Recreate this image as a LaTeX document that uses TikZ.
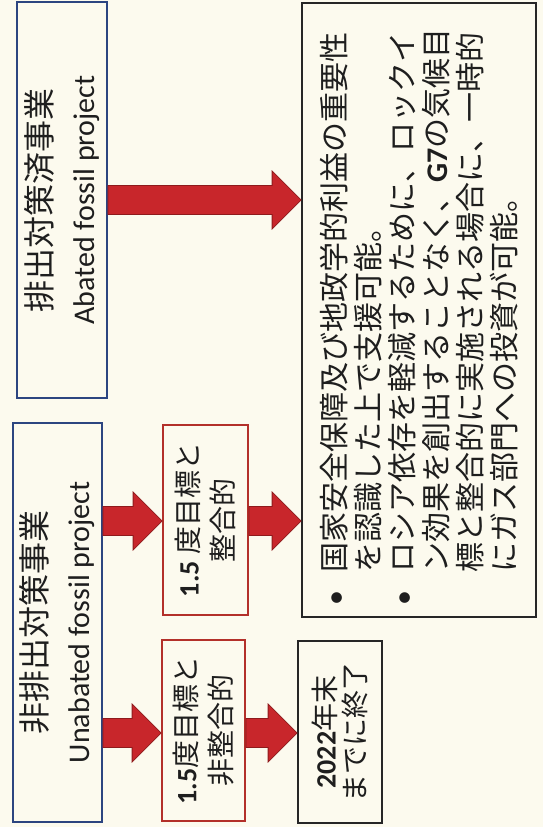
\documentclass[tikz,border=0pt]{standalone}
\usepackage{fontspec}
\setmainfont{Carlito}
\newfontfamily\jp{Noto Sans CJK JP}
\usetikzlibrary{calc}
\definecolor{bgc}{HTML}{FCFAEE}
\definecolor{bluec}{HTML}{2C4580}
\definecolor{redc}{HTML}{B3302A}
\definecolor{arrowc}{HTML}{C8262B}
\definecolor{arrowd}{HTML}{8E1A1C}
\definecolor{inkc}{HTML}{1E1E1E}
\newcommand\blockarrow[2]{%
  \path[blockarrow] ($(#1)+(0,-14.5)$) -- ($(#2)+(-29,-14.5)$) -- ($(#2)+(-29,-29)$) -- (#2)
    -- ($(#2)+(-29,29)$) -- ($(#2)+(-29,14.5)$) -- ($(#1)+(0,14.5)$) -- cycle;}
\begin{document}
\begin{tikzpicture}[x=1pt,y=-1pt,
  box/.style={draw, line width=1.8pt, rotate=90, inner sep=0pt, text=inkc, align=center},
  bluebox/.style={box, draw=bluec, font=\fontsize{30}{43}\selectfont},
  redbox/.style={box, draw=redc, font=\fontsize{28}{35}\selectfont},
  blackbox/.style={box, draw=black!85},
  blockarrow/.style={fill=arrowc, draw=arrowd, line width=0.8pt, line join=miter}
]
\fill[bgc] (0,0) rectangle (543,827);
\useasboundingbox (0,0) rectangle (543,827);

\node[bluebox, minimum width=396pt, minimum height=90pt] (abated) at (62,200)
  {{\jp\fontsize{32}{43}\selectfont 排出対策済事業}\\Abated fossil project};
\node[bluebox, minimum width=399pt, minimum height=89pt] (unabated) at (57.5,622.5)
  {{\jp\fontsize{32}{43}\selectfont 非排出対策事業}\\Unabated fossil project};
\node[redbox, minimum width=190pt, minimum height=85pt] (ok15) at (205.5,520)
  {{\bfseries 1.5} {\jp 度目標と}\\{\jp 整合的}};
\node[redbox, minimum width=181pt, minimum height=83pt] (ng15) at (203.5,730.5)
  {{\bfseries 1.5}{\jp 度目標と}\\{\jp 非整合的}};
\node[blackbox, minimum width=182pt, minimum height=84pt, font=\fontsize{28}{30}\selectfont] (end22) at (340,732)
  {{\bfseries 2022}{\jp 年末}\\{\jp までに終了}};
\node[blackbox, minimum width=614pt, minimum height=234pt, align=left, text width=590pt,
  font=\jp\fontsize{30}{34}\selectfont] (big) at (419,310)
  {\makebox[33pt][l]{\rmfamily\textbullet}国家安全保障及び地政学的利益の重要性\\
   \hspace*{33pt}を認識した上で支援可能。\\
   \makebox[33pt][l]{\rmfamily\textbullet}ロシア依存を軽減するために、ロックイ\\
   \hspace*{33pt}ン効果を創出することなく、{\rmfamily\bfseries G7}の気候目\\
   \hspace*{33pt}標と整合的に実施される場合に、一時的\\
   \hspace*{33pt}にガス部門への投資が可能。};

\coordinate (ya) at (0,200);
\coordinate (yb) at (0,521);
\coordinate (yc) at (0,733);
\coordinate (a1s) at (abated.south |- ya);
\coordinate (a1e) at (big.north |- ya);
\coordinate (a2s) at (unabated.south |- yb);
\coordinate (a2e) at (ok15.north |- yb);
\coordinate (a3s) at (unabated.south |- yc);
\coordinate (a3e) at (ng15.north |- yc);
\coordinate (a4s) at (ok15.south |- yb);
\coordinate (a4e) at (big.north |- yb);
\coordinate (a5s) at (ng15.south |- yc);
\coordinate (a5e) at (end22.north |- yc);
\blockarrow{a1s}{a1e}
\blockarrow{a2s}{a2e}
\blockarrow{a3s}{a3e}
\blockarrow{a4s}{a4e}
\blockarrow{a5s}{a5e}
\end{tikzpicture}
\end{document}
